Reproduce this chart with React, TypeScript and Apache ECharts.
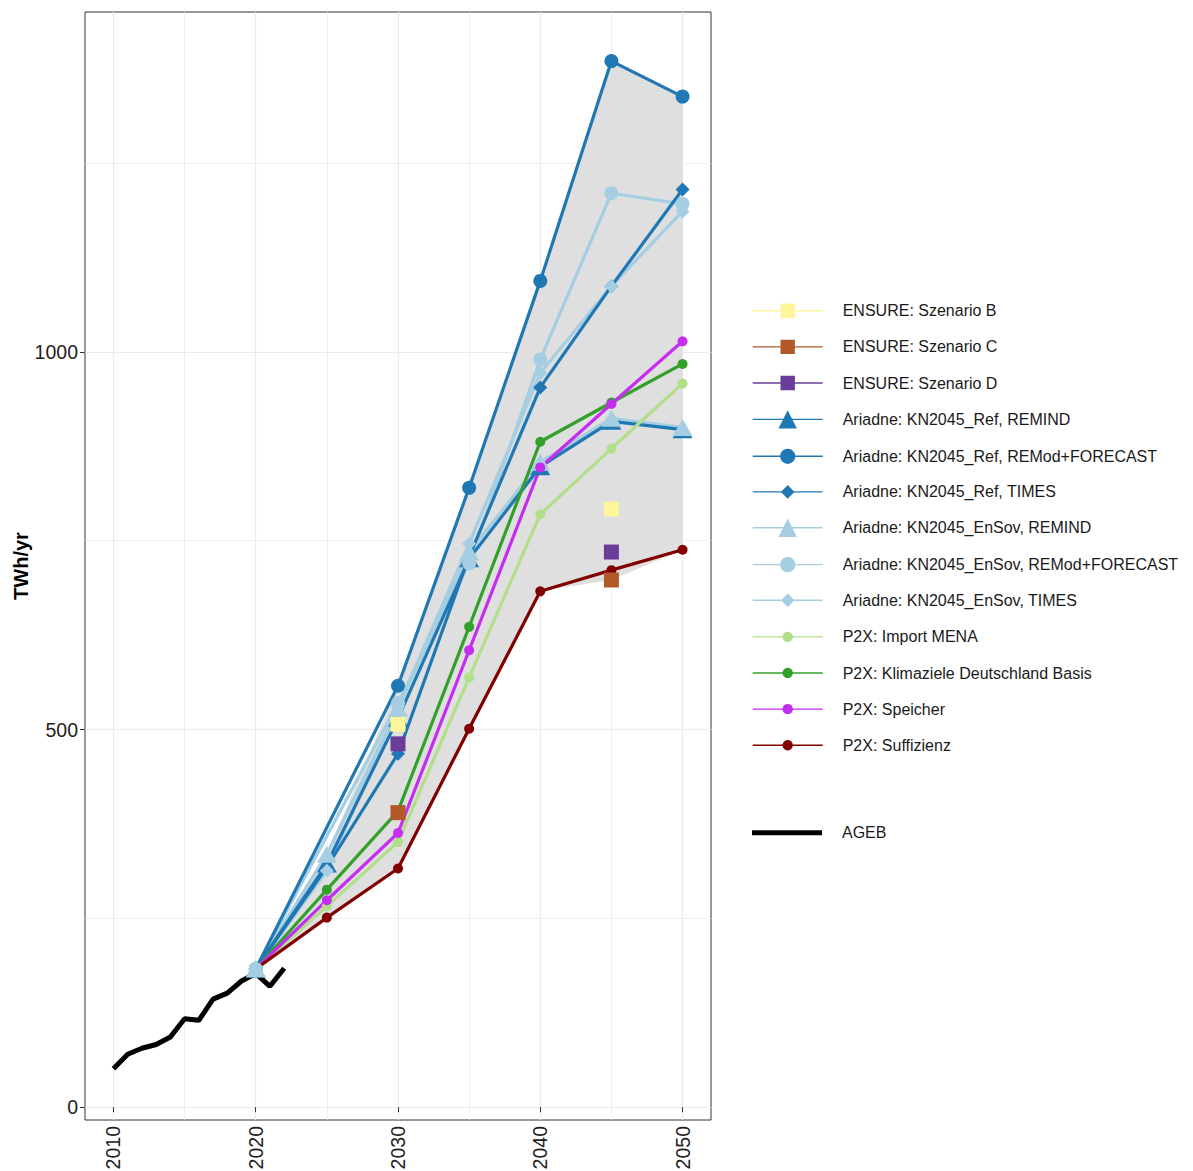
import { useEffect, useRef } from 'react'
import * as echarts from 'echarts'

// scenario years
const years = [2020, 2025, 2030, 2035, 2040, 2045, 2050]

// ENSURE (points only)
const ensureB = [null, null, 507, null, null, 792, null]
const ensureC = [null, null, 390, null, null, 698, null]
const ensureD = [null, null, 481, null, null, 735, null]

// Ariadne
const refRemind = [183, 322, 515, 726, 848, 908, 897]
const refRemod = [183, null, 558, 820, 1094, 1385, 1338]
const refTimes = [183, 318, 468, 729, 953, 1087, 1215]
const ensovRemind = [183, 335, 528, 735, 854, 912, 900]
const ensovRemod = [183, null, 535, 720, 990, 1210, 1196]
const ensovTimes = [183, 313, 530, 746, 972, 1087, 1186]

// P2X
const importMena = [183, 266, 351, 569, 785, 872, 958]
const klimaziele = [183, 288, 392, 636, 881, 933, 984]
const speicher = [183, 274, 363, 605, 847, 931, 1014]
const suffizienz = [183, 251, 316, 501, 683, 711, 738]

// AGEB history
const agebYears = [2010, 2011, 2012, 2013, 2014, 2015, 2016, 2017, 2018, 2019, 2020, 2021, 2022]
const agebValues = [51, 70, 78, 83, 93, 117, 115, 143, 151, 167, 177, 160, 184]

// axis ticks
const xMajor = [2010, 2020, 2030, 2040, 2050]
const xMinor = [2015, 2025, 2035, 2045]
const yMajor = [0, 500, 1000]
const yMinor = [250, 750, 1250]

const FONT = '"Liberation Sans", Arial, sans-serif'
const REF = '#1F78B4'
const ENSOV = '#A6CEE3'

type Scenario = {
  name: string
  values: (number | null)[]
  color: string
  symbol: string
  size: number | number[]
  legendH: number
  lineOrder: number
  pointOrder: number
  hideStart?: boolean
}

// legend order; lineOrder / pointOrder give the drawing order
const scenarios: Scenario[] = [
  { name: 'ENSURE: Szenario B', values: ensureB, color: '#FFF59A', symbol: 'rect', size: 15, legendH: 18, lineOrder: 10, pointOrder: 10 },
  { name: 'ENSURE: Szenario C', values: ensureC, color: '#B15928', symbol: 'rect', size: 15, legendH: 18, lineOrder: 11, pointOrder: 11 },
  { name: 'ENSURE: Szenario D', values: ensureD, color: '#6A3D9A', symbol: 'rect', size: 15, legendH: 18, lineOrder: 12, pointOrder: 12 },
  { name: 'Ariadne: KN2045_Ref, REMIND', values: refRemind, color: REF, symbol: 'triangle', size: [20, 17], legendH: 23, lineOrder: 3, pointOrder: 0 },
  { name: 'Ariadne: KN2045_Ref, REMod+FORECAST', values: refRemod, color: REF, symbol: 'circle', size: 14, legendH: 19, lineOrder: 4, pointOrder: 1 },
  { name: 'Ariadne: KN2045_Ref, TIMES', values: refTimes, color: REF, symbol: 'diamond', size: 14, legendH: 17, lineOrder: 5, pointOrder: 2 },
  { name: 'Ariadne: KN2045_EnSov, REMIND', values: ensovRemind, color: ENSOV, symbol: 'triangle', size: [20, 17], legendH: 23, lineOrder: 0, pointOrder: 3 },
  { name: 'Ariadne: KN2045_EnSov, REMod+FORECAST', values: ensovRemod, color: ENSOV, symbol: 'circle', size: 14, legendH: 19, lineOrder: 1, pointOrder: 4 },
  { name: 'Ariadne: KN2045_EnSov, TIMES', values: ensovTimes, color: ENSOV, symbol: 'diamond', size: 14, legendH: 17, lineOrder: 2, pointOrder: 5 },
  { name: 'P2X: Import MENA', values: importMena, color: '#B2DF8A', symbol: 'circle', size: 10, legendH: 13, lineOrder: 6, pointOrder: 6, hideStart: true },
  { name: 'P2X: Klimaziele Deutschland Basis', values: klimaziele, color: '#33A02C', symbol: 'circle', size: 10, legendH: 13, lineOrder: 7, pointOrder: 7, hideStart: true },
  { name: 'P2X: Speicher', values: speicher, color: '#C52DF0', symbol: 'circle', size: 10, legendH: 13, lineOrder: 8, pointOrder: 8, hideStart: true },
  { name: 'P2X: Suffizienz', values: suffizienz, color: '#800000', symbol: 'circle', size: 10, legendH: 13, lineOrder: 9, pointOrder: 9, hideStart: true },
]

// min / max envelope of all scenarios per year
const ribbonLo = years.map((_, i) =>
  Math.min(...scenarios.map((s) => s.values[i]).filter((v): v is number => v != null))
)
const ribbonHi = years.map((_, i) =>
  Math.max(...scenarios.map((s) => s.values[i]).filter((v): v is number => v != null))
)

export default function App() {
  const chartRef = useRef<HTMLDivElement>(null)

  useEffect(() => {
    if (!chartRef.current) return
    document.body.style.margin = '0'
    const chart = echarts.init(chartRef.current, null, { renderer: 'svg' })

    const tickLabel = {
      fontSize: 19.5,
      color: '#222',
      fontFamily: FONT,
      formatter: (v: number) => String(v),
    }
    const majorLine = { color: '#EBEBEB', width: 1.2 }
    const minorLine = { color: '#EBEBEB', width: 0.8 }
    const legendText = { fontSize: 16, color: '#1a1a1a', fontFamily: FONT, padding: [0, 0, 0, 15] }

    const legends: any[] = scenarios.map((s, k) => {
      const cy = 310.3 + 36.12 * k
      const shift = s.legendH >= 19 ? 3 : 1.5
      return {
        data: [s.name],
        left: 752,
        top: cy - Math.max(s.legendH, 16) / 2 + shift,
        padding: 0,
        itemWidth: 70,
        itemHeight: s.legendH,
        selectedMode: false,
        lineStyle: { width: 1.4 },
        textStyle: legendText,
      }
    })
    legends.push({
      data: [{ name: 'AGEB', icon: 'rect' }],
      left: 752,
      top: 831.7 - 8 + 1,
      padding: 0,
      itemWidth: 70,
      itemHeight: 5,
      selectedMode: false,
      textStyle: legendText,
    })

    const lineSeries = [...scenarios]
      .sort((a, b) => a.lineOrder - b.lineOrder)
      .map((s) => ({
        type: 'line',
        name: s.name,
        xAxisIndex: 0,
        yAxisIndex: 0,
        z: 2,
        data: years.map((y, i) => [y, s.values[i]]),
        connectNulls: !s.name.startsWith('ENSURE'),
        symbol: s.symbol,
        symbolSize: s.size,
        showSymbol: false,
        lineStyle: { color: s.color, width: 3.2 },
        itemStyle: { color: s.color },
        emphasis: { disabled: true },
        silent: true,
      }))

    const pointSeries = [...scenarios]
      .sort((a, b) => a.pointOrder - b.pointOrder)
      .map((s) => ({
        type: 'scatter',
        name: s.name,
        xAxisIndex: 0,
        yAxisIndex: 0,
        z: 3,
        data: years
          .map((y, i) => [y, s.values[i]])
          .filter((d, i) => d[1] != null && !(s.hideStart && i === 0)),
        symbol: s.symbol,
        symbolSize: s.size,
        itemStyle: { color: s.color, opacity: 1 },
        emphasis: { disabled: true },
        silent: true,
      }))

    chart.setOption({
      animation: false,
      backgroundColor: '#fff',
      grid: {
        left: 85,
        top: 12,
        width: 626,
        height: 1108,
        containLabel: false,
        outerBoundsMode: 'none',
        show: true,
        borderColor: '#333',
        borderWidth: 1,
        backgroundColor: 'transparent',
      },
      legend: legends,
      xAxis: [
        {
          type: 'value',
          min: 2008,
          max: 2052,
          axisLine: { show: false },
          axisTick: { show: true, length: 5, customValues: xMajor, lineStyle: { color: '#333' } },
          axisLabel: { customValues: xMajor, rotate: 90, margin: 6, ...tickLabel },
          splitLine: { show: true, lineStyle: majorLine },
        },
        {
          type: 'value',
          min: 2008,
          max: 2052,
          position: 'bottom',
          axisLine: { show: false },
          axisTick: { show: false, customValues: xMinor },
          axisLabel: { show: false },
          splitLine: { show: true, lineStyle: minorLine },
        },
      ],
      yAxis: [
        {
          type: 'value',
          min: -17,
          max: 1450,
          name: 'TWh/yr',
          nameLocation: 'middle',
          nameGap: 54,
          nameMoveOverlap: false,
          nameTextStyle: { fontSize: 20, fontWeight: 'bold', color: '#000', fontFamily: FONT },
          axisLine: { show: false },
          axisTick: { show: true, length: 5, customValues: yMajor, lineStyle: { color: '#333' } },
          axisLabel: { customValues: yMajor, margin: 7, ...tickLabel },
          splitLine: { show: true, lineStyle: majorLine },
        },
        {
          type: 'value',
          min: -17,
          max: 1450,
          position: 'left',
          axisLine: { show: false },
          axisTick: { show: false, customValues: yMinor },
          axisLabel: { show: false },
          splitLine: { show: true, lineStyle: minorLine },
        },
      ],
      series: [
        {
          type: 'custom',
          name: 'range',
          xAxisIndex: 0,
          yAxisIndex: 0,
          z: 1,
          silent: true,
          data: years.map((y, i) => [y, ribbonLo[i], ribbonHi[i]]),
          encode: { x: 0, y: [1, 2] },
          renderItem: (params: any, api: any) => {
            if (params.dataIndex !== 0) return null
            const top = years.map((y, i) => api.coord([y, ribbonHi[i]]))
            const bottom = years.map((y, i) => api.coord([y, ribbonLo[i]])).reverse()
            return {
              type: 'polygon',
              shape: { points: [...top, ...bottom] },
              style: { fill: '#DFDFDF' },
            }
          },
        },
        {
          type: 'line',
          name: 'AGEB',
          xAxisIndex: 0,
          yAxisIndex: 0,
          z: 2,
          data: agebYears.map((y, i) => [y, agebValues[i]]),
          symbol: 'none',
          lineStyle: { color: '#000', width: 5 },
          itemStyle: { color: '#000' },
          silent: true,
        },
        ...lineSeries,
        ...pointSeries,
      ],
    })

    return () => {
      chart.dispose()
    }
  }, [])

  return <div ref={chartRef} style={{ width: '1193px', height: '1171px' }}></div>
}
